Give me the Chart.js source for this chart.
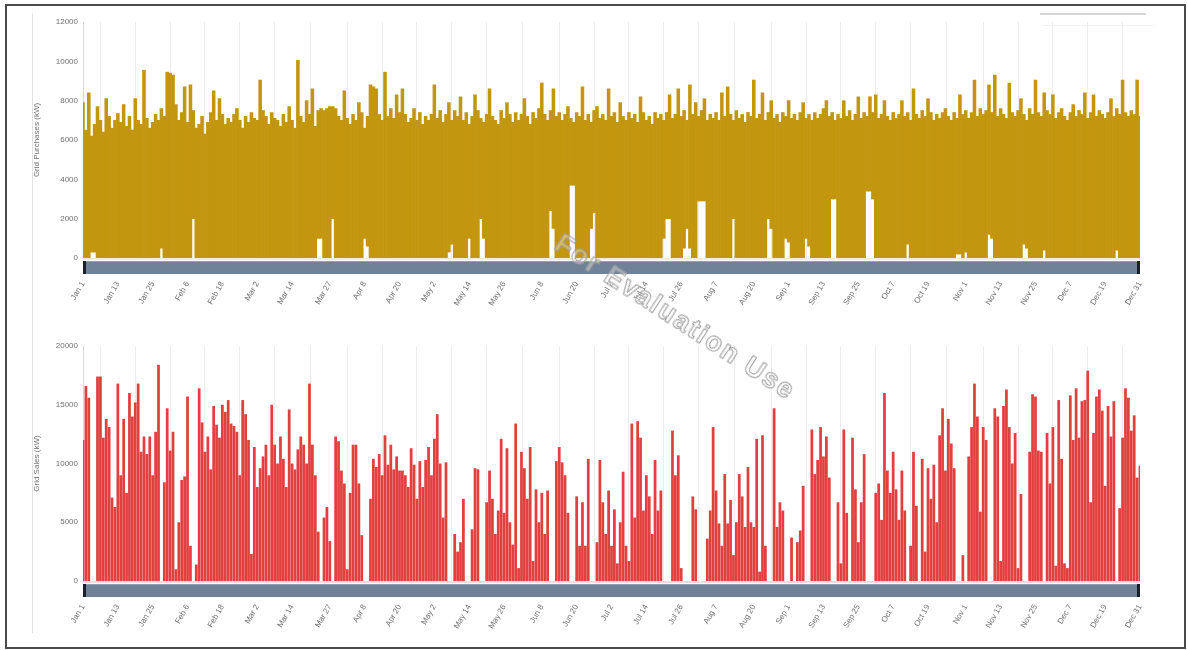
<!DOCTYPE html>
<html>
<head>
<meta charset="utf-8">
<script src="https://cdn.jsdelivr.net/npm/chart.js@4.4.1/dist/chart.umd.min.js"></script>
<style>
  html, body { margin: 0; padding: 0; background: #fff; }
  body { width: 1188px; height: 650px; position: relative; overflow: hidden; font-family: "Liberation Sans", Arial, sans-serif; }
  #frame { position: absolute; left: 5px; top: 4px; width: 1177px; height: 641px; border: 2px solid #4a4a4a; box-sizing: content-box; }
  #sep { position: absolute; left: 32px; top: 13px; width: 1px; height: 620px; background: #e2e2e2; }
  #legendLine1 { position: absolute; left: 1040px; top: 13px; width: 106px; height: 2px; background: #d6d6d6; }
  #legendLine2 { position: absolute; left: 1043px; top: 25px; width: 110px; height: 1px; background: #f0f0f0; }
  .box { position: absolute; left: 0; width: 1188px; }
  #box1 { top: 0; height: 330px; }
  #box2 { top: 330px; height: 320px; }
  #wm { position: absolute; left: 566px; top: 228px; font: bold 27px "Liberation Sans", Arial, sans-serif; letter-spacing: 2px;
        color: rgba(255,255,255,0.35); -webkit-text-stroke: 1px #9a9a9a; transform: rotate(33deg); transform-origin: 0 0; white-space: nowrap; }
</style>
</head>
<body>
<div id="frame"></div>
<div id="sep"></div>
<div id="legendLine1"></div>
<div id="legendLine2"></div>
<div class="box" id="box1"><canvas id="c1"></canvas></div>
<div class="box" id="box2"><canvas id="c2"></canvas></div>
<div id="wm">For Evaluation Use</div>
<script>
// ---------- DATA ----------
const tickDays = [0, 12, 24, 36, 48, 60, 72, 85, 97, 109, 121, 133, 145, 158, 170, 182, 194, 206, 218, 231, 243, 255, 267, 279, 291, 304, 316, 328, 340, 352, 364];
const tickLabels = ["Jan 1", "Jan 13", "Jan 25", "Feb 6", "Feb 18", "Mar 2", "Mar 14", "Mar 27", "Apr 8", "Apr 20", "May 2", "May 14", "May 26", "Jun 8", "Jun 20", "Jul 2", "Jul 14", "Jul 26", "Aug 7", "Aug 20", "Sep 1", "Sep 13", "Sep 25", "Oct 7", "Oct 19", "Nov 1", "Nov 13", "Nov 25", "Dec 7", "Dec 19", "Dec 31"];

// Daily peak of grid purchases (kW), day 0 = Jan 1
const purchaseMax = [
  7900, 6500, 8400, 6200, 6800, 7700, 7000, 6400, 8100, 7200,
  6600, 7000, 7350, 6900, 7800, 6700, 7200, 6500, 8100, 7000,
  6800, 9550, 7100, 6600, 6900, 7300, 7000, 7600, 7200, 9450,
  9400, 9300, 7800, 7000, 7400, 8700, 6900, 8800, 7500, 6600,
  6800, 7200, 6300, 6900, 7400, 8500, 7000, 8100, 7300, 6800,
  7100, 6900, 7300, 7600, 7000, 6600, 7200, 6900, 7400, 7100,
  7000, 9050, 7500, 7200, 6800, 7400, 7100, 7000, 6700, 7300,
  6900, 7700, 7000, 6600, 10050, 7200, 6900, 8000, 7300, 8600,
  6700, 7500, 7600, 7500, 7600, 7700, 7700, 7600, 7200, 7000,
  8500, 7100, 6800, 7300, 7000, 7900, 7400, 6600, 7200, 8800,
  8700, 8600, 7300, 7000, 9450, 7200, 7600, 7100, 8300, 7400,
  8600, 7300, 6900, 7100, 7600, 7000, 7400, 6800, 7200, 7000,
  7300, 8800, 7100, 7500, 6900, 7300, 7900, 7000, 7500, 7200,
  8200, 7000, 7400, 6800, 7200, 8300, 7500, 7100, 6900, 7300,
  8600, 7200, 7000, 6800, 7500, 7100, 7900, 7300, 6900, 7400,
  7000, 7300, 8100, 7200, 6800, 7400, 7100, 7600, 8900, 7300,
  7000, 7500, 8600, 7200, 7400, 7000, 7300, 7700, 7100, 6900,
  7400, 7200, 8700, 7000, 7300, 6900, 7500, 7700, 7100, 7300,
  7000, 8600, 7200, 7400, 6900, 7900, 7200, 7000, 7400, 7100,
  7300, 6900, 8200, 7400, 7000, 7200, 6800, 7400, 7100, 7300,
  7000, 7400, 8300, 7100, 7300, 8600, 7200, 7500, 7000, 8800,
  7300, 7900, 7200, 7500, 8100, 7000, 7300, 7100, 7400, 7000,
  8400, 7200, 8700, 7300, 7000, 7500, 7100, 7300, 6900, 7400,
  7200, 9050, 7100, 7300, 8400, 7000, 7400, 8000, 7100, 7300,
  6900, 7400, 7200, 8000, 7100, 7300, 7000, 7400, 7900, 7100,
  7300, 7000, 7400, 7100, 7300, 7600, 8000, 7200, 7400, 7000,
  7300, 7100, 8000, 7200, 7500, 7000, 7300, 8200, 7100, 7400,
  7200, 8200, 7400, 8300, 7100, 7300, 8000, 7200, 7000, 7400,
  7100, 7300, 8000, 7200, 7400, 7000, 8600, 7300, 7100, 7500,
  7200, 8100, 7400, 7000, 7300, 7100, 7400, 7600, 7200, 7000,
  7400, 7100, 8300, 7300, 7500, 7100, 7400, 9050, 7200, 7600,
  7300, 7500, 8800, 7400, 9300, 7200, 7600, 7300, 7100, 8900,
  7400, 7200, 7500, 8100, 7300, 7000, 7600, 7300, 9050, 7400,
  7200, 8400, 7500, 7300, 8300, 7100, 7400, 7600, 7200, 7000,
  7400, 7800, 7200, 7500, 7300, 8400, 7100, 7400, 8300, 7200,
  7500, 7300, 7100, 7400, 8100, 7200, 7600, 7300, 9050, 7400,
  7200, 7500, 7300, 9050, 7200
];

// Daily minimum of grid purchases (kW)
const purchaseMin = [
  0, 0, 0, 300, 300, 0, 0, 0, 0, 0,
  0, 0, 0, 0, 0, 0, 0, 0, 0, 0,
  0, 0, 0, 0, 0, 0, 0, 500, 0, 0,
  0, 0, 0, 0, 0, 0, 0, 0, 2000, 0,
  0, 0, 0, 0, 0, 0, 0, 0, 0, 0,
  0, 0, 0, 0, 0, 0, 0, 0, 0, 0,
  0, 0, 0, 0, 0, 0, 0, 0, 0, 0,
  0, 0, 0, 0, 0, 0, 0, 0, 0, 0,
  0, 1000, 1000, 0, 0, 0, 2000, 0, 0, 0,
  0, 0, 0, 0, 0, 0, 0, 1000, 600, 0,
  0, 0, 0, 0, 0, 0, 0, 0, 0, 0,
  0, 0, 0, 0, 0, 0, 0, 0, 0, 0,
  0, 0, 0, 0, 0, 0, 300, 700, 0, 0,
  0, 0, 0, 1000, 0, 0, 0, 2000, 1000, 0,
  0, 0, 0, 0, 0, 0, 0, 0, 0, 0,
  0, 0, 0, 0, 0, 0, 0, 0, 0, 0,
  0, 2400, 1500, 0, 0, 0, 0, 0, 3700, 3700,
  0, 0, 0, 0, 0, 1500, 2300, 0, 0, 0,
  0, 0, 0, 0, 0, 0, 0, 0, 0, 0,
  0, 0, 0, 0, 0, 0, 0, 0, 0, 0,
  1000, 2000, 2000, 0, 0, 0, 0, 500, 1500, 500,
  0, 0, 2900, 2900, 2900, 0, 0, 0, 0, 0,
  0, 0, 0, 0, 2000, 0, 0, 0, 0, 0,
  0, 0, 0, 0, 0, 0, 2000, 1500, 0, 0,
  0, 0, 1000, 800, 0, 0, 0, 0, 0, 1000,
  600, 0, 0, 0, 0, 0, 0, 0, 3000, 3000,
  0, 0, 0, 0, 0, 0, 0, 0, 0, 0,
  3400, 3400, 3000, 0, 0, 0, 0, 0, 0, 0,
  0, 0, 0, 0, 700, 0, 0, 0, 0, 0,
  0, 0, 0, 0, 0, 0, 0, 0, 0, 0,
  0, 200, 200, 0, 300, 0, 0, 0, 0, 0,
  0, 0, 1200, 1000, 0, 0, 0, 0, 0, 0,
  0, 0, 0, 0, 700, 500, 0, 0, 0, 0,
  0, 400, 0, 0, 0, 0, 0, 0, 0, 0,
  0, 0, 0, 0, 0, 0, 0, 0, 0, 0,
  0, 0, 0, 0, 0, 0, 400, 0, 0, 0,
  0, 0, 0, 0, 0
];

// Daily peak of grid sales (kW)
const salesMax = [
  12000, 16600, 15600, 0, 0, 17400, 17400, 12200, 13800, 13100,
  7100, 6300, 16800, 9000, 13800, 7500, 16000, 14000, 15200, 16800,
  11000, 12300, 10800, 12300, 9000, 12700, 18400, 0, 8400, 14700,
  11100, 12700, 1000, 5000, 8600, 8900, 15700, 3000, 0, 1400,
  16400, 13500, 11000, 12300, 9500, 14900, 13300, 12200, 15000, 14400,
  15400, 13400, 13200, 12700, 9000, 15400, 14200, 12000, 2300, 11400,
  8000, 9600, 10600, 11600, 9000, 15000, 11600, 10000, 12300, 10400,
  8000, 14600, 10000, 9500, 11200, 12300, 11600, 10000, 16800, 11600,
  9000, 4200, 0, 5400, 6300, 3400, 0, 12300, 11900, 9400,
  8300, 1000, 7500, 11600, 11600, 8300, 3900, 0, 0, 7000,
  10400, 9700, 10800, 9000, 12400, 9900, 11600, 9500, 10600, 9400,
  9400, 9000, 8000, 11300, 9900, 7000, 10200, 8000, 10300, 11400,
  9000, 12100, 14200, 10000, 5400, 10100, 0, 0, 4000, 2500,
  3300, 7000, 0, 0, 4400, 9600, 9500, 0, 0, 6700,
  9400, 7000, 4000, 6000, 12100, 5800, 11300, 5000, 3100, 13400,
  1100, 11000, 9600, 7000, 11400, 1700, 7800, 5000, 7500, 4000,
  7700, 0, 0, 10200, 11400, 10100, 9000, 5800, 0, 0,
  7200, 3000, 6700, 3000, 10400, 0, 0, 3300, 10300, 6700,
  4000, 7700, 3000, 6100, 1500, 5000, 9300, 3000, 1700, 13400,
  5400, 13600, 12200, 6000, 9000, 7200, 4000, 10300, 6000, 7700,
  0, 0, 0, 12800, 9000, 10700, 1100, 0, 0, 0,
  7200, 6100, 0, 0, 0, 3600, 6000, 13100, 7700, 4900,
  3000, 9100, 4900, 6900, 2200, 5000, 9100, 7200, 4600, 9700,
  5000, 4600, 12100, 800, 12400, 3000, 0, 0, 14700, 4600,
  6700, 6000, 0, 0, 3700, 0, 3300, 4300, 8100, 0,
  0, 12900, 9100, 10300, 13100, 10600, 12300, 8800, 0, 0,
  6700, 1500, 12900, 5800, 0, 12200, 7800, 3300, 6700, 10800,
  0, 0, 0, 7500, 8300, 5200, 16000, 9400, 7500, 11000,
  7800, 5200, 9400, 6000, 0, 3000, 11000, 6400, 0, 10400,
  2500, 9600, 7000, 9900, 5000, 12400, 14700, 9400, 13800, 11700,
  9600, 0, 0, 2200, 0, 10600, 13100, 16800, 14000, 5900,
  13100, 12000, 0, 0, 14700, 14000, 1700, 14900, 16300, 13100,
  10000, 12600, 1100, 7400, 0, 0, 11000, 15900, 15700, 11100,
  11000, 0, 12600, 8300, 13100, 1300, 15400, 10400, 1500, 1100,
  15800, 12000, 16400, 12200, 15300, 15400, 17900, 6700, 12600, 15700,
  16300, 14500, 8100, 14900, 12300, 15300, 0, 6200, 12200, 16400,
  15600, 12800, 14100, 8800, 9800
];

// ---------- BUILD ----------
const FONT = "'Liberation Sans', Arial, sans-serif";
const purchaseData = purchaseMax.map((v, i) => ({ x: i, y: [purchaseMin[i], v] }));
const salesData = salesMax.map((v, i) => ({ x: i, y: v }));

const navigatorPlugin = {
  id: 'navigator',
  afterDatasetsDraw(chart) {
    const { ctx, chartArea: a } = chart;
    ctx.save();
    ctx.fillStyle = chart.options.plugins.navigator.baseColor;
    ctx.fillRect(a.left, a.bottom, a.right - a.left, 2);
    ctx.fillStyle = '#6f8298';
    ctx.fillRect(a.left, a.bottom + 3, a.right - a.left, 13);
    ctx.fillStyle = '#8ea0b3';
    ctx.fillRect(a.left, a.bottom + 3, a.right - a.left, 1);
    ctx.fillStyle = '#17202b';
    ctx.fillRect(a.left, a.bottom + 3, 3, 13);
    ctx.fillRect(a.right - 3, a.bottom + 3, 3, 13);
    ctx.restore();
  }
};

function makeChart(id, dataset, yMax, yStep, yTitle, padTop, xHeight, baseColor) {
  return new Chart(document.getElementById(id), {
    type: 'bar',
    data: { datasets: [dataset] },
    plugins: [navigatorPlugin],
    options: {
      responsive: true,
      maintainAspectRatio: false,
      animation: false,
      layout: { padding: { top: padTop, right: 48, left: 0, bottom: 0 } },
      plugins: { legend: { display: false }, tooltip: { enabled: false }, navigator: { baseColor } },
      scales: {
        x: {
          type: 'linear',
          min: 0, max: 364,
          offset: false,
          afterFit: s => { s.height = xHeight; },
          afterBuildTicks: s => { s.ticks = tickDays.map(v => ({ value: v })); },
          grid: { color: '#ececec', drawTicks: false },
          border: { display: false },
          ticks: {
            autoSkip: false, maxRotation: 60, minRotation: 60, padding: 22,
            color: '#707070', font: { family: FONT, size: 8 },
            callback: (v, i) => tickLabels[i]
          }
        },
        y: {
          min: 0, max: yMax,
          afterFit: s => { s.width = 83; },
          grid: { display: false, drawTicks: false },
          border: { display: true, color: '#d8d8d8' },
          ticks: { stepSize: yStep, padding: 5, color: '#707070', font: { family: FONT, size: 8 }, callback: v => String(v) },
          title: { display: true, text: yTitle, color: '#707070', font: { family: FONT, size: 8 }, padding: { top: 32, bottom: 0 } }
        }
      }
    }
  });
}

makeChart('c1', {
  data: purchaseData,
  backgroundColor: '#c3960f',
  borderWidth: 0,
  barPercentage: 1.0,
  categoryPercentage: 1.0
}, 12000, 2000, 'Grid Purchases (kW)', 22, 72, '#f6eed4');

makeChart('c2', {
  data: salesData,
  backgroundColor: '#e1403f',
  borderWidth: 0,
  barPercentage: 0.95,
  categoryPercentage: 1.0
}, 20000, 5000, 'Grid Sales (kW)', 16, 69, '#f8dcdc');
</script>
</body>
</html>
